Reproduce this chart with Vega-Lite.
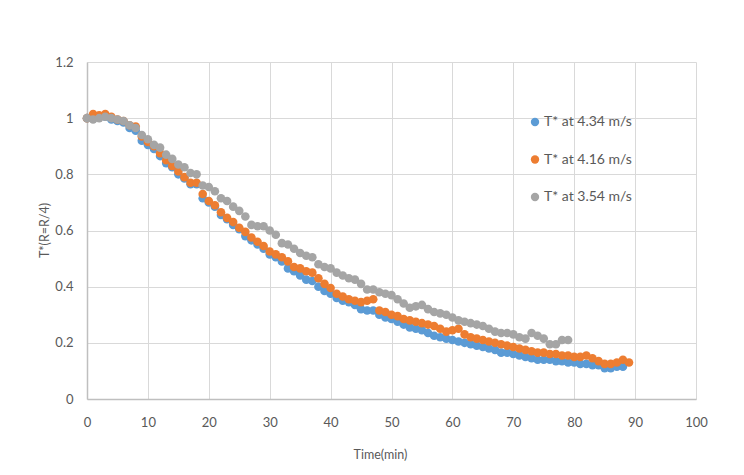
{
  "$schema": "https://vega.github.io/schema/vega-lite/v6.json",
  "width": 609,
  "height": 337,
  "autosize": {"type": "none"},
  "padding": {"left": 87, "top": 62, "right": 48, "bottom": 76},
  "background": "white",
  "config": {
    "font": "Lato",
    "view": {"stroke": null},
    "axis": {
      "labelFont": "Lato",
      "labelFontSize": 13,
      "labelColor": "#595959",
      "labelFlush": false,
      "titleFont": "Lato",
      "titleFontSize": 12.5,
      "titleFontWeight": "normal",
      "titleColor": "#595959",
      "gridColor": "#d9d9d9",
      "gridWidth": 1,
      "domainColor": "#bfbfbf",
      "domainWidth": 1.5,
      "ticks": false
    }
  },
  "data": {
    "values": [
      {"s": "T* at 4.34 m/s", "t": 0, "v": 1.0}, {"s": "T* at 4.34 m/s", "t": 1, "v": 1.0}, {"s": "T* at 4.34 m/s", "t": 2, "v": 1.005}, {"s": "T* at 4.34 m/s", "t": 3, "v": 1.005},
      {"s": "T* at 4.34 m/s", "t": 4, "v": 0.995}, {"s": "T* at 4.34 m/s", "t": 5, "v": 0.99}, {"s": "T* at 4.34 m/s", "t": 6, "v": 0.985}, {"s": "T* at 4.34 m/s", "t": 7, "v": 0.965},
      {"s": "T* at 4.34 m/s", "t": 8, "v": 0.955}, {"s": "T* at 4.34 m/s", "t": 9, "v": 0.92}, {"s": "T* at 4.34 m/s", "t": 10, "v": 0.905}, {"s": "T* at 4.34 m/s", "t": 11, "v": 0.89},
      {"s": "T* at 4.34 m/s", "t": 12, "v": 0.865}, {"s": "T* at 4.34 m/s", "t": 13, "v": 0.84}, {"s": "T* at 4.34 m/s", "t": 14, "v": 0.825}, {"s": "T* at 4.34 m/s", "t": 15, "v": 0.8},
      {"s": "T* at 4.34 m/s", "t": 16, "v": 0.785}, {"s": "T* at 4.34 m/s", "t": 17, "v": 0.765}, {"s": "T* at 4.34 m/s", "t": 18, "v": 0.765}, {"s": "T* at 4.34 m/s", "t": 19, "v": 0.715},
      {"s": "T* at 4.34 m/s", "t": 20, "v": 0.7}, {"s": "T* at 4.34 m/s", "t": 21, "v": 0.685}, {"s": "T* at 4.34 m/s", "t": 22, "v": 0.655}, {"s": "T* at 4.34 m/s", "t": 23, "v": 0.64},
      {"s": "T* at 4.34 m/s", "t": 24, "v": 0.62}, {"s": "T* at 4.34 m/s", "t": 25, "v": 0.605}, {"s": "T* at 4.34 m/s", "t": 26, "v": 0.58}, {"s": "T* at 4.34 m/s", "t": 27, "v": 0.565},
      {"s": "T* at 4.34 m/s", "t": 28, "v": 0.55}, {"s": "T* at 4.34 m/s", "t": 29, "v": 0.535}, {"s": "T* at 4.34 m/s", "t": 30, "v": 0.515}, {"s": "T* at 4.34 m/s", "t": 31, "v": 0.505},
      {"s": "T* at 4.34 m/s", "t": 32, "v": 0.49}, {"s": "T* at 4.34 m/s", "t": 33, "v": 0.465}, {"s": "T* at 4.34 m/s", "t": 34, "v": 0.455}, {"s": "T* at 4.34 m/s", "t": 35, "v": 0.44},
      {"s": "T* at 4.34 m/s", "t": 36, "v": 0.425}, {"s": "T* at 4.34 m/s", "t": 37, "v": 0.42}, {"s": "T* at 4.34 m/s", "t": 38, "v": 0.4}, {"s": "T* at 4.34 m/s", "t": 39, "v": 0.385},
      {"s": "T* at 4.34 m/s", "t": 40, "v": 0.375}, {"s": "T* at 4.34 m/s", "t": 41, "v": 0.36}, {"s": "T* at 4.34 m/s", "t": 42, "v": 0.35}, {"s": "T* at 4.34 m/s", "t": 43, "v": 0.345},
      {"s": "T* at 4.34 m/s", "t": 44, "v": 0.335}, {"s": "T* at 4.34 m/s", "t": 45, "v": 0.32}, {"s": "T* at 4.34 m/s", "t": 46, "v": 0.315}, {"s": "T* at 4.34 m/s", "t": 47, "v": 0.315},
      {"s": "T* at 4.34 m/s", "t": 48, "v": 0.3}, {"s": "T* at 4.34 m/s", "t": 49, "v": 0.29}, {"s": "T* at 4.34 m/s", "t": 50, "v": 0.285}, {"s": "T* at 4.34 m/s", "t": 51, "v": 0.275},
      {"s": "T* at 4.34 m/s", "t": 52, "v": 0.265}, {"s": "T* at 4.34 m/s", "t": 53, "v": 0.255}, {"s": "T* at 4.34 m/s", "t": 54, "v": 0.25}, {"s": "T* at 4.34 m/s", "t": 55, "v": 0.245},
      {"s": "T* at 4.34 m/s", "t": 56, "v": 0.235}, {"s": "T* at 4.34 m/s", "t": 57, "v": 0.225}, {"s": "T* at 4.34 m/s", "t": 58, "v": 0.22}, {"s": "T* at 4.34 m/s", "t": 59, "v": 0.215},
      {"s": "T* at 4.34 m/s", "t": 60, "v": 0.21}, {"s": "T* at 4.34 m/s", "t": 61, "v": 0.205}, {"s": "T* at 4.34 m/s", "t": 62, "v": 0.2}, {"s": "T* at 4.34 m/s", "t": 63, "v": 0.195},
      {"s": "T* at 4.34 m/s", "t": 64, "v": 0.19}, {"s": "T* at 4.34 m/s", "t": 65, "v": 0.185}, {"s": "T* at 4.34 m/s", "t": 66, "v": 0.18}, {"s": "T* at 4.34 m/s", "t": 67, "v": 0.175},
      {"s": "T* at 4.34 m/s", "t": 68, "v": 0.165}, {"s": "T* at 4.34 m/s", "t": 69, "v": 0.165}, {"s": "T* at 4.34 m/s", "t": 70, "v": 0.16}, {"s": "T* at 4.34 m/s", "t": 71, "v": 0.155},
      {"s": "T* at 4.34 m/s", "t": 72, "v": 0.15}, {"s": "T* at 4.34 m/s", "t": 73, "v": 0.145}, {"s": "T* at 4.34 m/s", "t": 74, "v": 0.14}, {"s": "T* at 4.34 m/s", "t": 75, "v": 0.14},
      {"s": "T* at 4.34 m/s", "t": 76, "v": 0.14}, {"s": "T* at 4.34 m/s", "t": 77, "v": 0.135}, {"s": "T* at 4.34 m/s", "t": 78, "v": 0.135}, {"s": "T* at 4.34 m/s", "t": 79, "v": 0.13},
      {"s": "T* at 4.34 m/s", "t": 80, "v": 0.13}, {"s": "T* at 4.34 m/s", "t": 81, "v": 0.125}, {"s": "T* at 4.34 m/s", "t": 82, "v": 0.125}, {"s": "T* at 4.34 m/s", "t": 83, "v": 0.12},
      {"s": "T* at 4.34 m/s", "t": 84, "v": 0.12}, {"s": "T* at 4.34 m/s", "t": 85, "v": 0.11}, {"s": "T* at 4.34 m/s", "t": 86, "v": 0.11}, {"s": "T* at 4.34 m/s", "t": 87, "v": 0.115},
      {"s": "T* at 4.34 m/s", "t": 88, "v": 0.115},

      {"s": "T* at 4.16 m/s", "t": 0, "v": 1.0}, {"s": "T* at 4.16 m/s", "t": 1, "v": 1.015}, {"s": "T* at 4.16 m/s", "t": 2, "v": 1.01}, {"s": "T* at 4.16 m/s", "t": 3, "v": 1.015},
      {"s": "T* at 4.16 m/s", "t": 4, "v": 1.005}, {"s": "T* at 4.16 m/s", "t": 5, "v": 0.995}, {"s": "T* at 4.16 m/s", "t": 6, "v": 0.99}, {"s": "T* at 4.16 m/s", "t": 7, "v": 0.975},
      {"s": "T* at 4.16 m/s", "t": 8, "v": 0.97}, {"s": "T* at 4.16 m/s", "t": 9, "v": 0.935}, {"s": "T* at 4.16 m/s", "t": 10, "v": 0.915}, {"s": "T* at 4.16 m/s", "t": 11, "v": 0.9},
      {"s": "T* at 4.16 m/s", "t": 12, "v": 0.875}, {"s": "T* at 4.16 m/s", "t": 13, "v": 0.85}, {"s": "T* at 4.16 m/s", "t": 14, "v": 0.83}, {"s": "T* at 4.16 m/s", "t": 15, "v": 0.81},
      {"s": "T* at 4.16 m/s", "t": 16, "v": 0.79}, {"s": "T* at 4.16 m/s", "t": 17, "v": 0.77}, {"s": "T* at 4.16 m/s", "t": 18, "v": 0.77}, {"s": "T* at 4.16 m/s", "t": 19, "v": 0.73},
      {"s": "T* at 4.16 m/s", "t": 20, "v": 0.705}, {"s": "T* at 4.16 m/s", "t": 21, "v": 0.69}, {"s": "T* at 4.16 m/s", "t": 22, "v": 0.665}, {"s": "T* at 4.16 m/s", "t": 23, "v": 0.645},
      {"s": "T* at 4.16 m/s", "t": 24, "v": 0.63}, {"s": "T* at 4.16 m/s", "t": 25, "v": 0.61}, {"s": "T* at 4.16 m/s", "t": 26, "v": 0.595}, {"s": "T* at 4.16 m/s", "t": 27, "v": 0.575},
      {"s": "T* at 4.16 m/s", "t": 28, "v": 0.56}, {"s": "T* at 4.16 m/s", "t": 29, "v": 0.545}, {"s": "T* at 4.16 m/s", "t": 30, "v": 0.525}, {"s": "T* at 4.16 m/s", "t": 31, "v": 0.515},
      {"s": "T* at 4.16 m/s", "t": 32, "v": 0.505}, {"s": "T* at 4.16 m/s", "t": 33, "v": 0.49}, {"s": "T* at 4.16 m/s", "t": 34, "v": 0.47}, {"s": "T* at 4.16 m/s", "t": 35, "v": 0.465},
      {"s": "T* at 4.16 m/s", "t": 36, "v": 0.455}, {"s": "T* at 4.16 m/s", "t": 37, "v": 0.45}, {"s": "T* at 4.16 m/s", "t": 38, "v": 0.43}, {"s": "T* at 4.16 m/s", "t": 39, "v": 0.41},
      {"s": "T* at 4.16 m/s", "t": 40, "v": 0.395}, {"s": "T* at 4.16 m/s", "t": 41, "v": 0.375}, {"s": "T* at 4.16 m/s", "t": 42, "v": 0.365}, {"s": "T* at 4.16 m/s", "t": 43, "v": 0.355},
      {"s": "T* at 4.16 m/s", "t": 44, "v": 0.35}, {"s": "T* at 4.16 m/s", "t": 45, "v": 0.345}, {"s": "T* at 4.16 m/s", "t": 46, "v": 0.35}, {"s": "T* at 4.16 m/s", "t": 47, "v": 0.355},
      {"s": "T* at 4.16 m/s", "t": 48, "v": 0.315}, {"s": "T* at 4.16 m/s", "t": 49, "v": 0.31}, {"s": "T* at 4.16 m/s", "t": 50, "v": 0.3}, {"s": "T* at 4.16 m/s", "t": 51, "v": 0.295},
      {"s": "T* at 4.16 m/s", "t": 52, "v": 0.285}, {"s": "T* at 4.16 m/s", "t": 53, "v": 0.28}, {"s": "T* at 4.16 m/s", "t": 54, "v": 0.275}, {"s": "T* at 4.16 m/s", "t": 55, "v": 0.27},
      {"s": "T* at 4.16 m/s", "t": 56, "v": 0.265}, {"s": "T* at 4.16 m/s", "t": 57, "v": 0.26}, {"s": "T* at 4.16 m/s", "t": 58, "v": 0.25}, {"s": "T* at 4.16 m/s", "t": 59, "v": 0.24},
      {"s": "T* at 4.16 m/s", "t": 60, "v": 0.245}, {"s": "T* at 4.16 m/s", "t": 61, "v": 0.25}, {"s": "T* at 4.16 m/s", "t": 62, "v": 0.23}, {"s": "T* at 4.16 m/s", "t": 63, "v": 0.22},
      {"s": "T* at 4.16 m/s", "t": 64, "v": 0.215}, {"s": "T* at 4.16 m/s", "t": 65, "v": 0.21}, {"s": "T* at 4.16 m/s", "t": 66, "v": 0.205}, {"s": "T* at 4.16 m/s", "t": 67, "v": 0.2},
      {"s": "T* at 4.16 m/s", "t": 68, "v": 0.195}, {"s": "T* at 4.16 m/s", "t": 69, "v": 0.19}, {"s": "T* at 4.16 m/s", "t": 70, "v": 0.185}, {"s": "T* at 4.16 m/s", "t": 71, "v": 0.18},
      {"s": "T* at 4.16 m/s", "t": 72, "v": 0.175}, {"s": "T* at 4.16 m/s", "t": 73, "v": 0.17}, {"s": "T* at 4.16 m/s", "t": 74, "v": 0.165}, {"s": "T* at 4.16 m/s", "t": 75, "v": 0.165},
      {"s": "T* at 4.16 m/s", "t": 76, "v": 0.16}, {"s": "T* at 4.16 m/s", "t": 77, "v": 0.16}, {"s": "T* at 4.16 m/s", "t": 78, "v": 0.155}, {"s": "T* at 4.16 m/s", "t": 79, "v": 0.155},
      {"s": "T* at 4.16 m/s", "t": 80, "v": 0.15}, {"s": "T* at 4.16 m/s", "t": 81, "v": 0.15}, {"s": "T* at 4.16 m/s", "t": 82, "v": 0.155}, {"s": "T* at 4.16 m/s", "t": 83, "v": 0.145},
      {"s": "T* at 4.16 m/s", "t": 84, "v": 0.135}, {"s": "T* at 4.16 m/s", "t": 85, "v": 0.125}, {"s": "T* at 4.16 m/s", "t": 86, "v": 0.125}, {"s": "T* at 4.16 m/s", "t": 87, "v": 0.13},
      {"s": "T* at 4.16 m/s", "t": 88, "v": 0.14}, {"s": "T* at 4.16 m/s", "t": 89, "v": 0.13},

      {"s": "T* at 3.54 m/s", "t": 0, "v": 1.0}, {"s": "T* at 3.54 m/s", "t": 1, "v": 0.995}, {"s": "T* at 3.54 m/s", "t": 2, "v": 1.0}, {"s": "T* at 3.54 m/s", "t": 3, "v": 1.005},
      {"s": "T* at 3.54 m/s", "t": 4, "v": 1.0}, {"s": "T* at 3.54 m/s", "t": 5, "v": 0.995}, {"s": "T* at 3.54 m/s", "t": 6, "v": 0.99}, {"s": "T* at 3.54 m/s", "t": 7, "v": 0.975},
      {"s": "T* at 3.54 m/s", "t": 8, "v": 0.965}, {"s": "T* at 3.54 m/s", "t": 9, "v": 0.94}, {"s": "T* at 3.54 m/s", "t": 10, "v": 0.925}, {"s": "T* at 3.54 m/s", "t": 11, "v": 0.905},
      {"s": "T* at 3.54 m/s", "t": 12, "v": 0.895}, {"s": "T* at 3.54 m/s", "t": 13, "v": 0.87}, {"s": "T* at 3.54 m/s", "t": 14, "v": 0.855}, {"s": "T* at 3.54 m/s", "t": 15, "v": 0.835},
      {"s": "T* at 3.54 m/s", "t": 16, "v": 0.825}, {"s": "T* at 3.54 m/s", "t": 17, "v": 0.805}, {"s": "T* at 3.54 m/s", "t": 18, "v": 0.8}, {"s": "T* at 3.54 m/s", "t": 19, "v": 0.76},
      {"s": "T* at 3.54 m/s", "t": 20, "v": 0.755}, {"s": "T* at 3.54 m/s", "t": 21, "v": 0.74}, {"s": "T* at 3.54 m/s", "t": 22, "v": 0.715}, {"s": "T* at 3.54 m/s", "t": 23, "v": 0.705},
      {"s": "T* at 3.54 m/s", "t": 24, "v": 0.685}, {"s": "T* at 3.54 m/s", "t": 25, "v": 0.67}, {"s": "T* at 3.54 m/s", "t": 26, "v": 0.65}, {"s": "T* at 3.54 m/s", "t": 27, "v": 0.62},
      {"s": "T* at 3.54 m/s", "t": 28, "v": 0.615}, {"s": "T* at 3.54 m/s", "t": 29, "v": 0.615}, {"s": "T* at 3.54 m/s", "t": 30, "v": 0.6}, {"s": "T* at 3.54 m/s", "t": 31, "v": 0.585},
      {"s": "T* at 3.54 m/s", "t": 32, "v": 0.555}, {"s": "T* at 3.54 m/s", "t": 33, "v": 0.55}, {"s": "T* at 3.54 m/s", "t": 34, "v": 0.535}, {"s": "T* at 3.54 m/s", "t": 35, "v": 0.52},
      {"s": "T* at 3.54 m/s", "t": 36, "v": 0.51}, {"s": "T* at 3.54 m/s", "t": 37, "v": 0.505}, {"s": "T* at 3.54 m/s", "t": 38, "v": 0.48}, {"s": "T* at 3.54 m/s", "t": 39, "v": 0.47},
      {"s": "T* at 3.54 m/s", "t": 40, "v": 0.465}, {"s": "T* at 3.54 m/s", "t": 41, "v": 0.45}, {"s": "T* at 3.54 m/s", "t": 42, "v": 0.44}, {"s": "T* at 3.54 m/s", "t": 43, "v": 0.43},
      {"s": "T* at 3.54 m/s", "t": 44, "v": 0.425}, {"s": "T* at 3.54 m/s", "t": 45, "v": 0.41}, {"s": "T* at 3.54 m/s", "t": 46, "v": 0.39}, {"s": "T* at 3.54 m/s", "t": 47, "v": 0.39},
      {"s": "T* at 3.54 m/s", "t": 48, "v": 0.38}, {"s": "T* at 3.54 m/s", "t": 49, "v": 0.375}, {"s": "T* at 3.54 m/s", "t": 50, "v": 0.37}, {"s": "T* at 3.54 m/s", "t": 51, "v": 0.355},
      {"s": "T* at 3.54 m/s", "t": 52, "v": 0.34}, {"s": "T* at 3.54 m/s", "t": 53, "v": 0.325}, {"s": "T* at 3.54 m/s", "t": 54, "v": 0.33}, {"s": "T* at 3.54 m/s", "t": 55, "v": 0.335},
      {"s": "T* at 3.54 m/s", "t": 56, "v": 0.32}, {"s": "T* at 3.54 m/s", "t": 57, "v": 0.31}, {"s": "T* at 3.54 m/s", "t": 58, "v": 0.305}, {"s": "T* at 3.54 m/s", "t": 59, "v": 0.3},
      {"s": "T* at 3.54 m/s", "t": 60, "v": 0.29}, {"s": "T* at 3.54 m/s", "t": 61, "v": 0.28}, {"s": "T* at 3.54 m/s", "t": 62, "v": 0.275}, {"s": "T* at 3.54 m/s", "t": 63, "v": 0.27},
      {"s": "T* at 3.54 m/s", "t": 64, "v": 0.265}, {"s": "T* at 3.54 m/s", "t": 65, "v": 0.26}, {"s": "T* at 3.54 m/s", "t": 66, "v": 0.25}, {"s": "T* at 3.54 m/s", "t": 67, "v": 0.24},
      {"s": "T* at 3.54 m/s", "t": 68, "v": 0.235}, {"s": "T* at 3.54 m/s", "t": 69, "v": 0.235}, {"s": "T* at 3.54 m/s", "t": 70, "v": 0.23}, {"s": "T* at 3.54 m/s", "t": 71, "v": 0.22},
      {"s": "T* at 3.54 m/s", "t": 72, "v": 0.215}, {"s": "T* at 3.54 m/s", "t": 73, "v": 0.235}, {"s": "T* at 3.54 m/s", "t": 74, "v": 0.225}, {"s": "T* at 3.54 m/s", "t": 75, "v": 0.215},
      {"s": "T* at 3.54 m/s", "t": 76, "v": 0.195}, {"s": "T* at 3.54 m/s", "t": 77, "v": 0.195}, {"s": "T* at 3.54 m/s", "t": 78, "v": 0.21}, {"s": "T* at 3.54 m/s", "t": 79, "v": 0.21}
    ]
  },
  "mark": {"type": "point", "filled": true, "opacity": 1, "size": 74},
  "encoding": {
    "x": {
      "field": "t",
      "type": "quantitative",
      "title": "Time(min)",
      "scale": {"domain": [0, 100], "nice": false},
      "axis": {"values": [0, 10, 20, 30, 40, 50, 60, 70, 80, 90, 100], "labelPadding": 17, "titleX": 293, "titleY": 49, "titleBaseline": "top"}
    },
    "y": {
      "field": "v",
      "type": "quantitative",
      "title": "T*(R=R/4)",
      "scale": {"domain": [0, 1.2], "nice": false},
      "axis": {"values": [0, 0.2, 0.4, 0.6, 0.8, 1, 1.2], "format": "~g", "labelPadding": 14, "titleX": -43, "titleY": 168, "titleBaseline": "middle", "titleAngle": 270}
    },
    "color": {
      "field": "s",
      "type": "nominal",
      "title": null,
      "scale": {
        "domain": ["T* at 4.34 m/s", "T* at 4.16 m/s", "T* at 3.54 m/s"],
        "range": ["#5B9BD5", "#ED7D31", "#A5A5A5"]
      },
      "legend": {
        "orient": "none",
        "legendX": 441,
        "legendY": 53,
        "padding": 0,
        "symbolType": "circle",
        "symbolSize": 70,
        "symbolOpacity": 1,
        "labelFont": "Lato",
        "labelFontSize": 14,
        "labelColor": "#595959",
        "labelOffset": 2,
        "rowPadding": 23.5
      }
    }
  }
}
